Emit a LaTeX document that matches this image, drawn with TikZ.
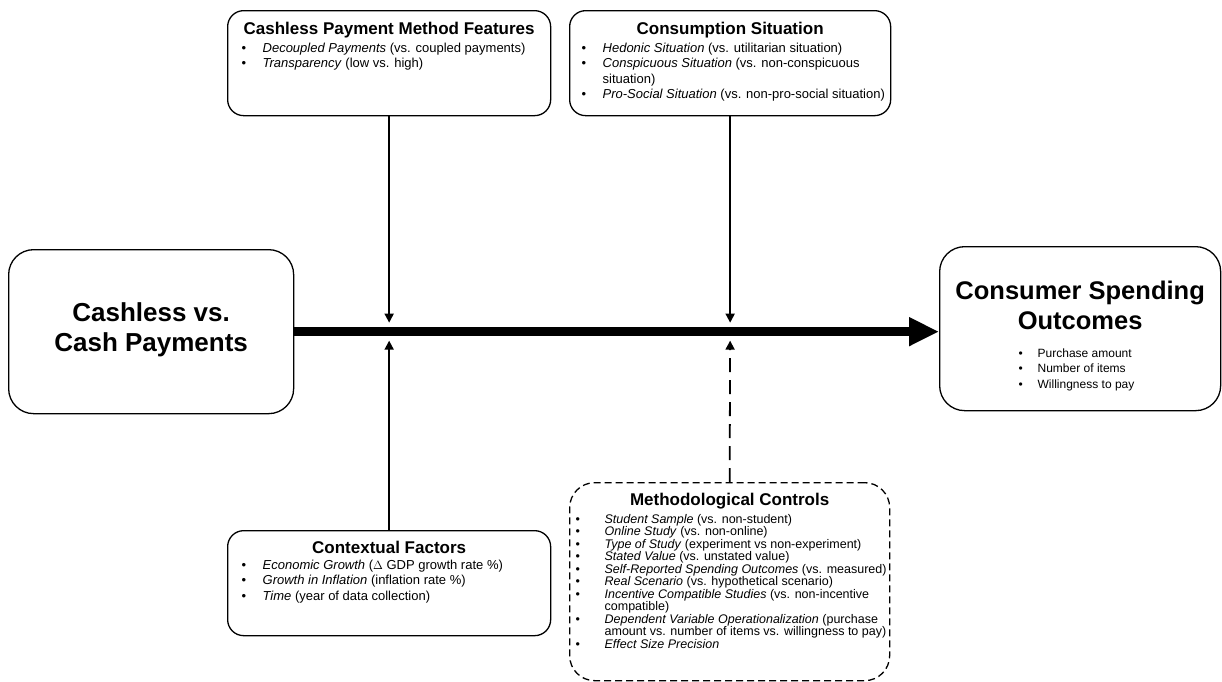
\documentclass[tikz,border=0pt]{standalone}
\usepackage{fontspec}
\setmainfont{Liberation Sans}
\usetikzlibrary{arrows.meta}

\newcommand{\boxtitle}[3]{{\centering\fontsize{#1}{30}\selectfont\bfseries\rule{0pt}{#2}#3\par}}
\newcommand{\listfont}{\fontsize{13}{15.5}\selectfont}
\newcommand{\bul}{\textbullet}
\newcommand{\entry}[1]{\par\hangindent=35pt\hangafter=1\noindent\hspace*{6pt}\makebox[29pt][l]{\bul}#1}

\begin{document}
\begin{tikzpicture}[x=1pt,y=-1pt,line width=1.3pt,
    main box/.style={draw,rounded corners=25pt,inner sep=0pt,anchor=north west},
    side box/.style={draw,rounded corners=16pt,inner sep=0pt,anchor=north west},
    control box/.style={side box,dash pattern=on 7pt off 4pt,rounded corners=25pt},
    mod line/.style={line width=1.8pt,-{Triangle[length=9pt,width=9pt]},shorten >=9pt},
    control line/.style={mod line,dash pattern=on 14pt off 8pt},
    main line/.style={line width=9pt,-{Triangle[length=30pt,width=27pt]}}]

  \useasboundingbox (0,0) rectangle (1222,681);

  \node[main box] (source) at (8,249) {\begin{minipage}[c][164pt][t]{285pt}
    \boxtitle{26}{72pt}{Cashless vs.\\Cash Payments}
  \end{minipage}};

  \node[main box] (outcome) at (939,246) {\begin{minipage}[c][164pt][t]{281pt}
    \boxtitle{25.5}{53pt}{Consumer Spending\\Outcomes}
    \vspace{12pt}\fontsize{12}{15.5}\selectfont
    \begin{tabular}[t]{@{\hspace{79pt}}p{19pt}@{}l@{}}
    \bul & Purchase amount\\
    \bul & Number of items\\
    \bul & Willingness to pay
    \end{tabular}
  \end{minipage}};

  \node[side box] (payment) at (227,10) {\begin{minipage}[c][105pt][t]{323pt}
    \boxtitle{17}{24pt}{Cashless Payment Method Features}
    \vspace{2pt}\listfont
    \begin{tabular}[t]{@{\hspace{14pt}}p{21pt}@{}l@{}}
    \bul & \textit{Decoupled Payments} (vs. coupled payments)\\
    \bul & \textit{Transparency} (low vs. high)
    \end{tabular}
  \end{minipage}};

  \node[side box] (situation) at (569,10) {\begin{minipage}[c][105pt][t]{321pt}
    \boxtitle{17}{24pt}{Consumption Situation}
    \vspace{2pt}\listfont
    \begin{tabular}[t]{@{\hspace{12pt}}p{21pt}@{}l@{}}
    \bul & \textit{Hedonic Situation} (vs. utilitarian situation)\\
    \bul & \textit{Conspicuous Situation} (vs. non-conspicuous\\
         & situation)\\
    \bul & \textit{Pro-Social Situation} (vs. non-pro-social situation)
    \end{tabular}
  \end{minipage}};

  \node[side box] (context) at (227,530) {\begin{minipage}[c][105pt][t]{323pt}
    \boxtitle{17}{23pt}{Contextual Factors}
    \listfont
    \begin{tabular}[t]{@{\hspace{14pt}}p{21pt}@{}l@{}}
    \bul & \textit{Economic Growth} ($\Delta$ GDP growth rate \%)\\
    \bul & \textit{Growth in Inflation} (inflation rate \%)\\
    \bul & \textit{Time} (year of data collection)
    \end{tabular}
  \end{minipage}};

  \node[control box] (methods) at (569,482) {\begin{minipage}[c][198pt][t]{320pt}
    \boxtitle{17}{23pt}{Methodological Controls}
    \vspace{4pt}\fontsize{12.5}{12.5}\selectfont
    \entry{\textit{Student Sample} (vs. non-student)}
    \entry{\textit{Online Study} (vs. non-online)}
    \entry{\textit{Type of Study} (experiment vs non-experiment)}
    \entry{\textit{Stated Value} (vs. unstated value)}
    \entry{\textit{Self-Reported Spending Outcomes} (vs. measured)}
    \entry{\textit{Real Scenario} (vs. hypothetical scenario)}
    \entry{\textit{Incentive Compatible Studies} (vs. non-incentive\newline compatible)}
    \entry{\textit{Dependent Variable Operationalization} (purchase\newline amount vs. number of items vs. willingness to pay)}
    \entry{\textit{Effect Size Precision}}\par
  \end{minipage}};

  \coordinate (join pay) at (payment.south |- source.east);
  \coordinate (join sit) at (situation.south |- source.east);

  \draw[main line] (source.east) -- (source.east -| outcome.west);
  \draw[mod line] (payment.south) -- (join pay);
  \draw[mod line] (situation.south) -- (join sit);
  \draw[mod line] (context.north) -- (join pay);
  \draw[control line] (methods.north) -- (join sit);
\end{tikzpicture}
\end{document}
